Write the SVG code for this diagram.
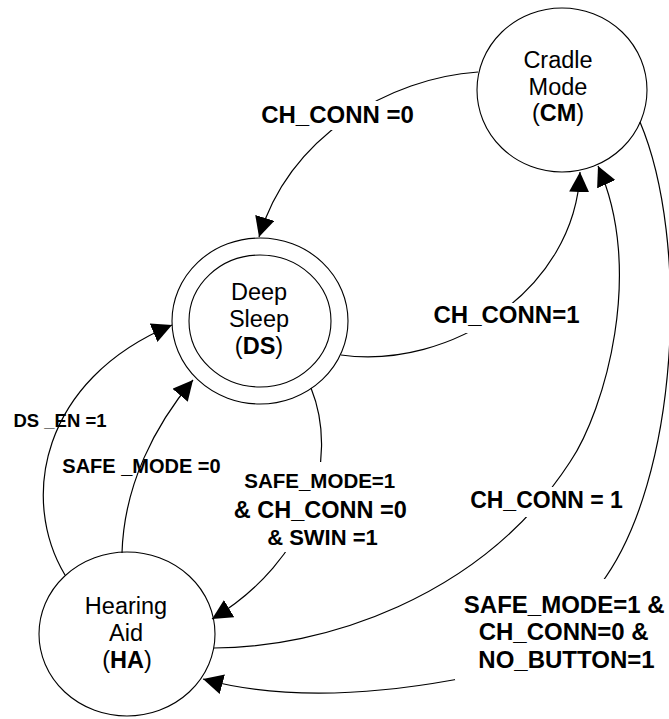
<svg xmlns="http://www.w3.org/2000/svg" width="669" height="719" viewBox="0 0 669 719">
  <defs>
    <marker id="arrow" markerUnits="userSpaceOnUse" markerWidth="20" markerHeight="20" viewBox="0 0 19 19" refX="19" refY="9.5" orient="auto">
      <path d="M0,0 L19,9.5 L0,19 Z" fill="#000"/>
    </marker>
    <style>
      .node { fill: none; stroke: #000; stroke-width: 1.1; }
      .edge { fill: none; stroke: #000; stroke-width: 1.2; marker-end: url(#arrow); }
      .nt { font-family: "Liberation Sans", Arial, sans-serif; font-size: 23.5px; text-anchor: middle; fill: #000; }
      .b { font-weight: bold; }
      .el { font-family: "Liberation Sans", Arial, sans-serif; font-weight: bold; text-anchor: middle; fill: #000; }
      .bg { fill: #fff; stroke: none; }
    </style>
  </defs>
  <rect width="669" height="719" fill="#fff"/>

  <g id="connectors">
    <path id="e-cm-ds" class="edge" d="M478,72 C390,78 290,135 259,237"/>
    <path id="e-ds-cm" class="edge" d="M341,355 C450,370 575,290 580,172"/>
    <path id="e-ha-cm" class="edge" d="M214,648 C320,648 480,600 570,462 C605,410 645,270 598,166"/>
    <path id="e-cm-ha" class="edge" d="M640,122 C690,240 680,480 600,585 C560,640 500,672 453,680 C370,695 280,700 203,679"/>
    <path id="e-ds-ha" class="edge" d="M311,388 C340,460 310,560 212,619"/>
    <path id="e-ha-ds-safe" class="edge" d="M122,553 C124,485 155,425 193,380"/>
    <path id="e-ha-ds-en" class="edge" d="M65,575 C20,500 40,380 172,325"/>
  </g>

  <g id="label-backgrounds">
    <rect class="bg" x="262" y="101" width="152" height="29"/>
    <rect class="bg" x="431" y="303" width="152" height="30"/>
    <rect class="bg" x="471" y="487" width="152" height="30"/>
    <rect class="bg" x="455" y="579" width="214" height="101"/>
    <rect class="bg" x="232" y="462" width="182" height="90"/>
  </g>

  <g id="labels">
    <text class="el" x="337.5" y="123" font-size="24">CH_CONN =0</text>
    <text class="el" x="506.5" y="323" font-size="24">CH_CONN=1</text>
    <text class="el" x="546.5" y="508" font-size="23">CH_CONN = 1</text>
    <text class="el" font-size="24">
      <tspan x="567.5" y="613">SAFE_MODE=1 &amp;</tspan>
      <tspan x="567" y="640">CH_CONN=0 &amp;</tspan>
      <tspan x="566.5" y="668">NO_BUTTON=1</tspan>
    </text>
    <text class="el">
      <tspan x="322" y="488" font-size="20.5">SAFE_MODE=1</tspan>
      <tspan x="322.5" y="518" font-size="23.5">&amp; CH_CONN =0</tspan>
      <tspan x="322.5" y="545" font-size="22">&amp; SWIN =1</tspan>
    </text>
    <text class="el" x="141.5" y="473" font-size="20">SAFE _MODE =0</text>
    <text class="el" x="60" y="427" font-size="18.5">DS _EN =1</text>
  </g>

  <g id="node-cm">
    <ellipse class="node" cx="562" cy="90" rx="85" ry="82"/>
    <text class="nt"><tspan x="558" y="68">Cradle</tspan><tspan x="558" y="95">Mode</tspan><tspan x="558" y="121">(<tspan class="b">CM</tspan>)</tspan></text>
  </g>

  <g id="node-ds">
    <ellipse class="node" cx="260" cy="321" rx="88" ry="83"/>
    <ellipse class="node" cx="260" cy="321" rx="71" ry="66"/>
    <text class="nt"><tspan x="259" y="300">Deep</tspan><tspan x="259" y="327">Sleep</tspan><tspan x="259" y="354">(<tspan class="b">DS</tspan>)</tspan></text>
  </g>

  <g id="node-ha">
    <ellipse class="node" cx="127" cy="634" rx="88" ry="82"/>
    <text class="nt"><tspan x="126" y="614">Hearing</tspan><tspan x="126" y="641">Aid</tspan><tspan x="127" y="668">(<tspan class="b">HA</tspan>)</tspan></text>
  </g>
</svg>
